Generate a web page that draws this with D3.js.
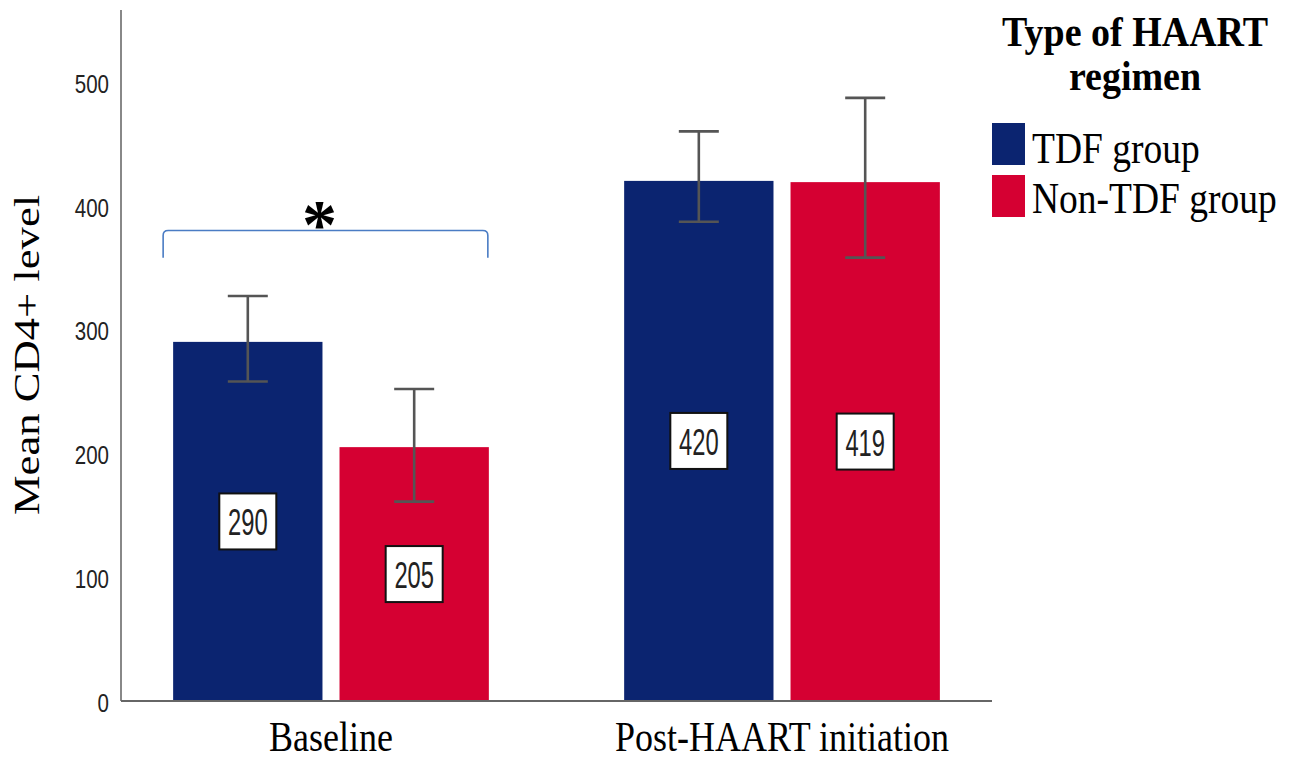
<!DOCTYPE html>
<html>
<head>
<meta charset="utf-8">
<script src="https://cdn.jsdelivr.net/npm/d3@7"></script>
<style>
  html, body { margin: 0; padding: 0; background: #fff; }
  svg { display: block; }
</style>
</head>
<body>
<svg id="chart" width="1297" height="761"></svg>
<script>
// ---- data ----
const categories = ["Baseline", "Post-HAART initiation"];
const seriesNames = ["TDF group", "Non-TDF group"];
const tdfMeans = [290, 420];
const nonTdfMeans = [205, 419];
const tdfLower = [258, 387];
const tdfUpper = [327, 460];
const nonTdfLower = [161, 358];
const nonTdfUpper = [252, 487];
const yTicks = [0, 100, 200, 300, 400, 500];
const colors = ["#0b2470", "#d50032"];
const legendTitle = ["Type of HAART", "regimen"];
const yLabel = "Mean CD4+ level";

const rows = [];
categories.forEach((c, i) => {
  rows.push({cat: c, s: seriesNames[0], v: tdfMeans[i], lo: tdfLower[i], hi: tdfUpper[i], color: colors[0]});
  rows.push({cat: c, s: seriesNames[1], v: nonTdfMeans[i], lo: nonTdfLower[i], hi: nonTdfUpper[i], color: colors[1]});
});

const svg = d3.select("#chart");
const pLeft = 121, pRight = 992, pTop = 10, pBottom = 701;

const x0 = d3.scaleBand().domain(categories).range([pLeft, pRight]).paddingInner(0.3).paddingOuter(0.1156);
const x1 = d3.scaleBand().domain(seriesNames).range([0, x0.bandwidth()]).paddingInner(0.1024);
const y = d3.scaleLinear().domain([0, 558]).range([pBottom, pTop]);

const serif = "'Liberation Serif','Times New Roman',serif";
const sans = "'Liberation Sans',Arial,sans-serif";

// bars
svg.append("g").selectAll("rect").data(rows).join("rect")
  .attr("x", d => x0(d.cat) + x1(d.s))
  .attr("y", d => y(d.v))
  .attr("width", x1.bandwidth())
  .attr("height", d => y(0) - y(d.v))
  .attr("fill", d => d.color);

// error bars
const eb = svg.append("g").attr("stroke", "#555").attr("stroke-width", 2.6).attr("fill", "none");
rows.forEach(d => {
  const cx = x0(d.cat) + x1(d.s) + x1.bandwidth() / 2;
  eb.append("line").attr("x1", cx).attr("x2", cx).attr("y1", y(d.hi)).attr("y2", y(d.lo));
  eb.append("line").attr("x1", cx - 20).attr("x2", cx + 20).attr("y1", y(d.hi)).attr("y2", y(d.hi));
  eb.append("line").attr("x1", cx - 20).attr("x2", cx + 20).attr("y1", y(d.lo)).attr("y2", y(d.lo));
});

// value labels
rows.forEach(d => {
  const cx = x0(d.cat) + x1(d.s) + x1.bandwidth() / 2;
  const cy = y(d.v / 2);
  svg.append("rect").attr("x", cx - 28.5).attr("y", cy - 28).attr("width", 57).attr("height", 56)
    .attr("fill", "#fff").attr("stroke", "#111").attr("stroke-width", 2);
  svg.append("text").attr("transform", `translate(${cx},${cy + 14}) scale(0.95,1.5)`)
    .attr("text-anchor", "middle").attr("font-family", sans).attr("font-size", 25)
    .attr("fill", "#222").text(d.v);
});

// axes
svg.append("line").attr("x1", pLeft).attr("x2", pLeft).attr("y1", pTop).attr("y2", pBottom)
  .attr("stroke", "#888").attr("stroke-width", 2);
svg.append("line").attr("x1", pLeft).attr("x2", pRight).attr("y1", pBottom).attr("y2", pBottom)
  .attr("stroke", "#666").attr("stroke-width", 2);

// y tick labels
svg.append("g").selectAll("text").data(yTicks).join("text")
  .attr("transform", d => `translate(109,${y(d) + 11}) scale(1,1.25)`)
  .attr("text-anchor", "end").attr("font-family", sans).attr("font-size", 20.5)
  .attr("fill", "#222").text(d => d);

// x labels
svg.append("g").selectAll("text").data(categories).join("text")
  .attr("transform", d => `translate(${x0(d) + x0.bandwidth() / 2},751) scale(1,1.15)`)
  .attr("text-anchor", "middle").attr("font-family", serif).attr("font-size", 36)
  .attr("fill", "#000").text(d => d);

// y label
svg.append("text").attr("transform", "translate(39,355) rotate(-90) scale(1.24,1)")
  .attr("text-anchor", "middle").attr("font-family", serif).attr("font-size", 36)
  .attr("fill", "#000").text(yLabel);

// significance bracket
const bl = x0(categories[0]) + x1(seriesNames[0]) - 10;
const br = x0(categories[0]) + x1(seriesNames[1]) + x1.bandwidth() - 1;
const bt = y(380), bb = y(358);
svg.append("path")
  .attr("d", `M${bl},${bb} L${bl},${bt + 5} Q${bl},${bt} ${bl + 5},${bt} L${br - 5},${bt} Q${br},${bt} ${br},${bt + 5} L${br},${bb}`)
  .attr("fill", "none").attr("stroke", "#4a7cc4").attr("stroke-width", 1.6);
svg.append("text").attr("x", (bl + br) / 2 - 6).attr("y", 248)
  .attr("text-anchor", "middle").attr("font-family", serif).attr("font-weight", "bold")
  .attr("font-size", 70).attr("fill", "#000").text("*");

// legend
svg.append("g").selectAll("text").data(legendTitle).join("text")
  .attr("transform", (d, i) => `translate(1135,${i === 0 ? 46 : 90}) scale(1,1.1)`)
  .attr("text-anchor", "middle").attr("font-family", serif).attr("font-weight", "bold")
  .attr("font-size", 38).attr("fill", "#000").text(d => d);
const lg = svg.append("g");
seriesNames.forEach((s, i) => {
  lg.append("rect").attr("x", 992).attr("y", 123 + i * 52).attr("width", 33).attr("height", 42).attr("fill", colors[i]);
  lg.append("text").attr("transform", `translate(1032,${163 + i * 50}) scale(1,1.2)`)
    .attr("font-family", serif).attr("font-size", 37.5).attr("fill", "#000").text(s);
});
</script>
</body>
</html>
